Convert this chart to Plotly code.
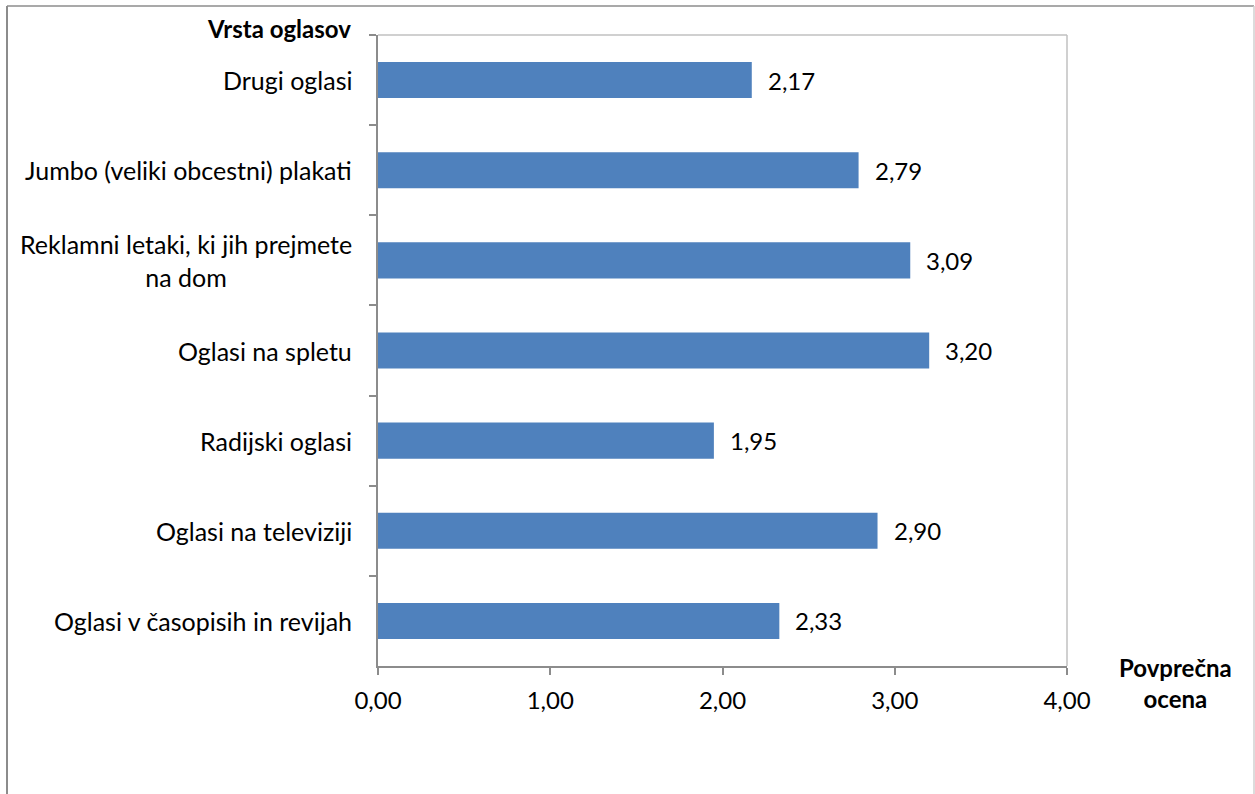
import plotly.graph_objects as go

categories = [
    "Drugi oglasi",
    "Jumbo (veliki obcestni) plakati",
    "Reklamni letaki, ki jih prejmete<br>na dom",
    "Oglasi na spletu",
    "Radijski oglasi",
    "Oglasi na televiziji",
    "Oglasi v časopisih in revijah",
]
values = [2.17, 2.79, 3.09, 3.20, 1.95, 2.90, 2.33]
x_ticks = [0, 1, 2, 3, 4]
x_tick_labels = ["0,00", "1,00", "2,00", "3,00", "4,00"]
y_title = "Vrsta oglasov"
x_title = "Povprečna<br>ocena"

FONT = "Lato"
FS = 24
W, H = 1255, 794
L, R, T, B = 378, 1067, 35, 666
pw, ph = R - L, B - T

def px(x):
    return (x - L) / pw

def py(y):
    return (B - y) / ph

fig = go.Figure()
fig.add_trace(go.Bar(
    x=values, y=categories, orientation="h",
    marker=dict(color="#4F81BD", line=dict(width=0)),
    hoverinfo="skip",
))

annotations = []
for c, v in zip(categories, values):
    annotations.append(dict(
        x=v, y=c, xref="x", yref="y", text=f"{v:.2f}".replace(".", ","),
        showarrow=False, xanchor="left", yanchor="middle", xshift=14,
        font=dict(family=FONT, size=FS, color="#000000"),
    ))
    annotations.append(dict(
        x=0, y=c, xref="x", yref="y", text=c, align="center",
        showarrow=False, xanchor="right", yanchor="middle", xshift=-24,
        font=dict(family=FONT, size=25, color="#000000"),
    ))
annotations.append(dict(
    x=px(353), y=py(28), xref="paper", yref="paper", text=f"<b>{y_title}</b>",
    showarrow=False, xanchor="right", yanchor="middle",
    font=dict(family=FONT, size=FS, color="#000000"),
))
annotations.append(dict(
    x=px(1175), y=py(683), xref="paper", yref="paper", text=f"<b>{x_title}</b>",
    showarrow=False, xanchor="center", yanchor="middle", align="center",
    font=dict(family=FONT, size=FS, color="#000000"),
))

shapes = [
    # outer frame
    dict(type="line", xref="paper", yref="paper", x0=px(7), x1=px(7), y0=py(6), y1=py(800),
         line=dict(color="#8c8c8c", width=2)),
    dict(type="line", xref="paper", yref="paper", x0=px(7), x1=px(1254), y0=py(6), y1=py(6),
         line=dict(color="#8c8c8c", width=1.5)),
    dict(type="line", xref="paper", yref="paper", x0=px(1254), x1=px(1254), y0=py(6), y1=py(800),
         line=dict(color="#d0d0d0", width=1.5)),
    # plot area top/right border
    dict(type="line", xref="paper", yref="paper", x0=0, x1=1, y0=1, y1=1,
         line=dict(color="#c0c0c0", width=1.5)),
    dict(type="line", xref="paper", yref="paper", x0=1, x1=1, y0=0, y1=1,
         line=dict(color="#c0c0c0", width=1.5)),
]

fig.update_layout(
    width=W, height=H,
    margin=dict(l=L, r=W - R, t=T, b=H - B, pad=0),
    paper_bgcolor="white", plot_bgcolor="white",
    showlegend=False, bargap=0.6,
    font=dict(family=FONT, size=FS, color="#000000"),
    annotations=annotations, shapes=shapes,
    xaxis=dict(
        range=[0, 4], tickvals=x_ticks, ticktext=x_tick_labels,
        showgrid=False, zeroline=False,
        showline=True, linecolor="#8c8c8c", linewidth=1.5,
        ticks="outside", ticklen=7, tickcolor="#8c8c8c", tickwidth=1.5,
        ticklabelstandoff=5,
        tickfont=dict(family=FONT, size=FS, color="#000000"),
    ),
    yaxis=dict(
        categoryorder="array", categoryarray=categories, autorange="reversed",
        showgrid=False, zeroline=False, showticklabels=False,
        showline=True, linecolor="#8c8c8c", linewidth=1.5,
        ticks="outside", tickson="boundaries", ticklen=7, tickcolor="#8c8c8c", tickwidth=1.5,
    ),
)

fig.write_html("out.html")
